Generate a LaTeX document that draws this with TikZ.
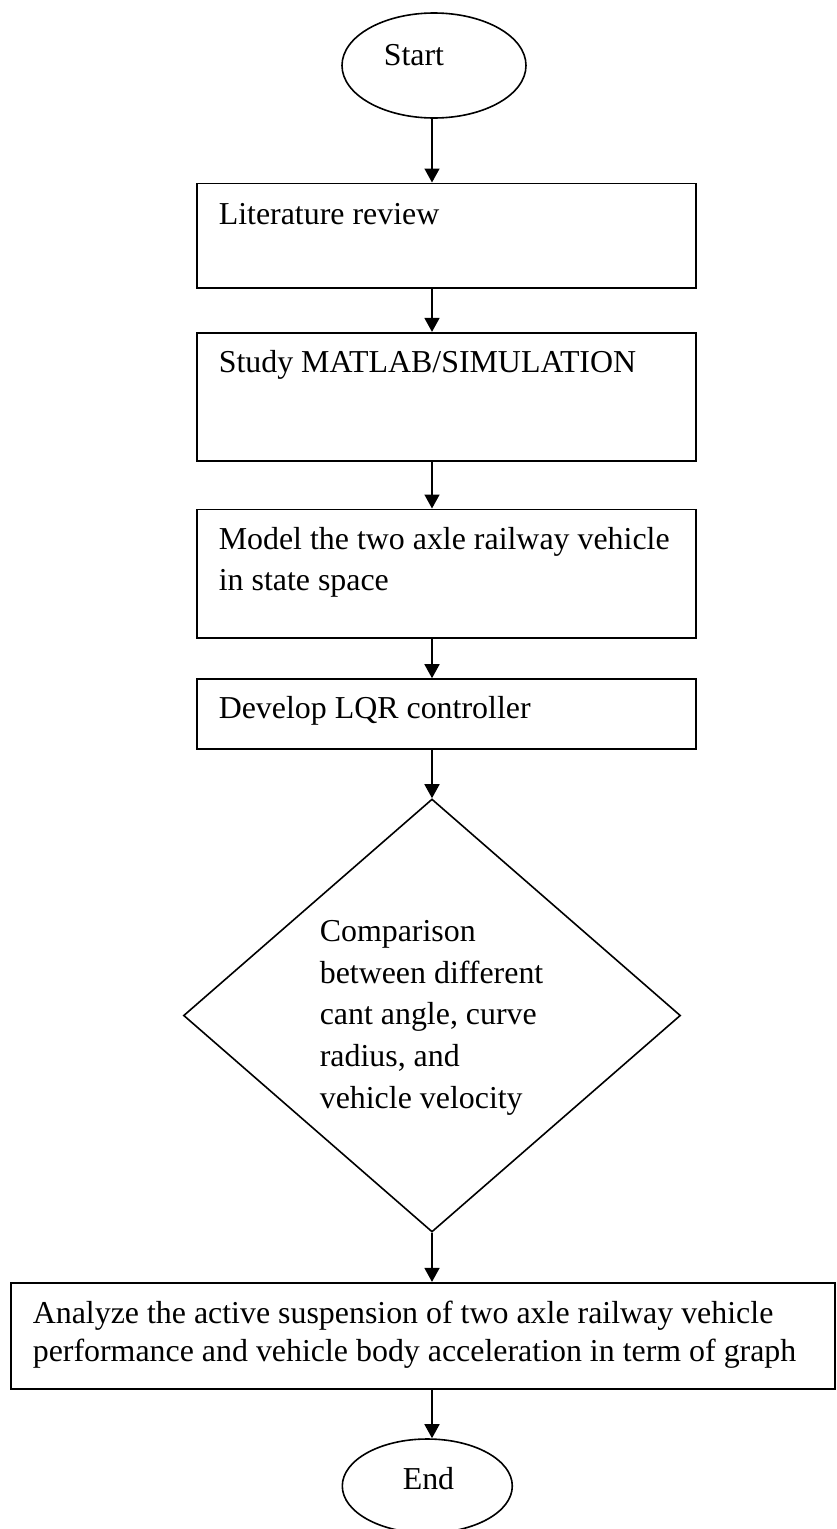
\documentclass[tikz,border=0pt]{standalone}
\usepackage{fontspec}
\setmainfont{Liberation Serif}
\usetikzlibrary{shapes.geometric,arrows.meta}
\begin{document}
\begin{tikzpicture}[x=1pt,y=-1pt,line width=1.6pt,
  box/.style={draw,rectangle,inner sep=0pt},
  oval/.style={draw,ellipse,inner sep=0pt},
  dia/.style={draw,diamond,inner sep=0pt},
  txt/.style={anchor=base west,inner sep=0pt,font=\fontsize{31.9}{41}\selectfont},
  arr/.style={-{Triangle[width=15pt,length=14pt]},line width=1.6pt}]
\useasboundingbox (0,0) rectangle (837,1529);
\coordinate (ax) at (432,0);
% shapes
\node[oval,minimum width=184pt,minimum height=105pt] (start) at (434,65.5) {};
\node[box,minimum width=499pt,minimum height=104.4pt] (lit) at (446.3,235.5) {};
\node[box,minimum width=499pt,minimum height=128pt] (study) at (446.3,396.7) {};
\node[box,minimum width=499pt,minimum height=128.4pt] (model) at (446.3,573.5) {};
\node[box,minimum width=499pt,minimum height=70pt] (lqr) at (446.3,714) {};
\node[dia,minimum width=497pt,minimum height=433pt] (cmp) at (432,1015.5) {};
\node[box,minimum width=824pt,minimum height=106.3pt] (ana) at (423,1335.85) {};
\node[oval,minimum width=170pt,minimum height=94pt] (end) at (427.3,1486) {};
% texts
\node[txt] (tstart) at (383,65) {Start};
\node[txt] (tlit) at (218,224) {Literature review};
\node[txt] (tstudy) at (218,372) {Study MATLAB/SIMULATION};
\node[txt] (tmodel) at (218,549) {\begin{tabular}[t]{@{}l@{}}Model the two axle railway vehicle\\in state space\end{tabular}};
\node[txt] (tlqr) at (218,718) {Develop LQR controller};
\node[txt,font=\fontsize{31.9}{41.7}\selectfont] (tcmp) at (319,941.5) {\begin{tabular}[t]{@{}l@{}}Comparison\\between different\\cant angle, curve\\radius, and\\vehicle velocity\end{tabular}};
\node[txt,font=\fontsize{31.9}{38}\selectfont] (tana) at (32,1323) {\begin{tabular}[t]{@{}l@{}}Analyze the active suspension of two axle railway vehicle\\performance and vehicle body acceleration in term of graph\end{tabular}};
\node[txt] (tend) at (402,1489) {End};
% connectors
\draw[arr] (ax |- start.south) -- (ax |- lit.north);
\draw[arr] (ax |- lit.south) -- (ax |- study.north);
\draw[arr] (ax |- study.south) -- (ax |- model.north);
\draw[arr] (ax |- model.south) -- (ax |- lqr.north);
\draw[arr] (ax |- lqr.south) -- (cmp.north);
\draw[arr] (cmp.south) -- (ax |- ana.north);
\draw[arr] (ax |- ana.south) -- (ax |- end.north);
\end{tikzpicture}
\end{document}
